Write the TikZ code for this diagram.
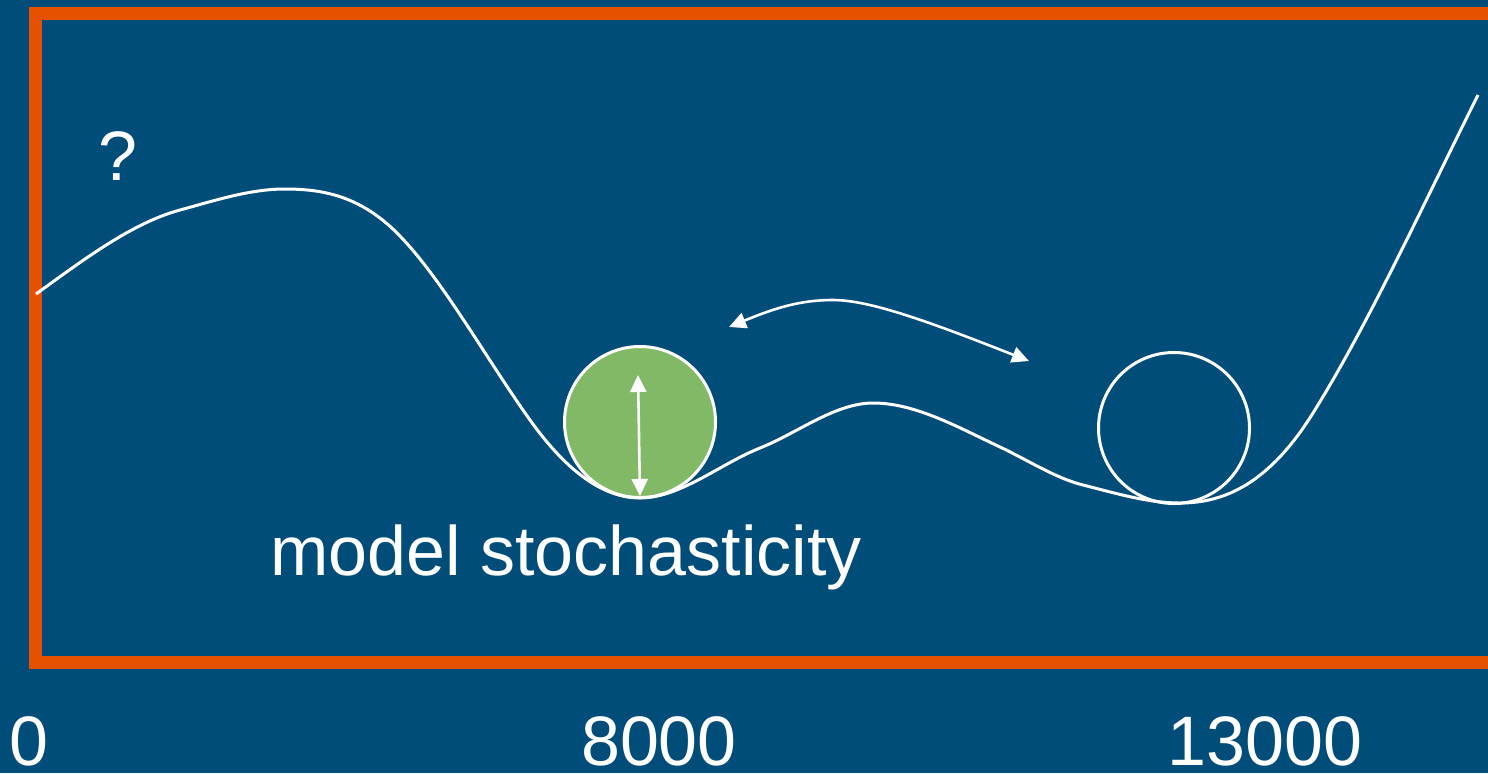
\documentclass[tikz,border=0pt]{standalone}
\usepackage{fontspec}
\setmainfont{Liberation Sans}
\usetikzlibrary{arrows.meta}
\definecolor{slideblue}{RGB}{0,77,122}
\definecolor{frameorange}{RGB}{230,81,0}
\definecolor{ballgreen}{RGB}{130,185,103}

\begin{document}
\begin{tikzpicture}[x=0.5pt,y=-0.5pt]
\tikzstyle{every node}=[font=\fontsize{35}{42}\selectfont,text=white,inner sep=0pt]
\tikzstyle{ball}=[circle,draw=white,line width=1.5pt,minimum size=151pt*0.5]
\tikzstyle{swing}=[white,line width=1.3pt,{Triangle[length=8.5pt,width=8pt]}-{Triangle[length=8.5pt,width=8pt]}]

% Background, fixes the page size too
\fill[slideblue] (0,0) rectangle (1488,773);
\useasboundingbox (0,0) rectangle (1488,773);

% Orange frame, open past the right edge
\draw[frameorange,line width=6.5pt] (1500,13) -- (35,13) -- (35,662.5) -- (1500,662.5);

% The landscape
\draw[white,line width=1.5pt] (36,294)
  .. controls (84,259.4) and (132,223) .. (180,210)
  .. controls (215,200.5) and (250,189) .. (285,189)
  .. controls (322.3,189) and (359.7,195.7) .. (397,233)
  .. controls (441.3,277.3) and (485.7,358) .. (530,420)
  .. controls (566.7,471.4) and (603.3,498) .. (640,498)
  .. controls (680,498) and (720,464) .. (760,448)
  .. controls (797.7,432.9) and (835.3,403) .. (873,403)
  .. controls (915.3,403) and (957.7,427.1) .. (1000,447)
  .. controls (1027.7,460) and (1055.3,478.1) .. (1083,485)
  .. controls (1115.3,493.1) and (1147.7,503) .. (1180,503)
  .. controls (1224.3,503) and (1268.7,483.9) .. (1313,413)
  .. controls (1368,325) and (1423,205) .. (1478,95);

% Two balls
\node[ball,fill=ballgreen] (green) at (640,422) {};
\node[ball] (empty) at (1174,428) {};

% Up and down inside the green ball
\coordinate (up) at (638,375);
\coordinate (down) at (640,496);
\draw[swing] (up) -- (down);

% Hop between the two valleys
\coordinate (hopL) at (729,327);
\coordinate (hopT) at (833,300);
\coordinate (hopR) at (1029,361);
\draw[swing] (hopL) .. controls (775,308) and (800,300) .. (hopT)
  .. controls (870,300) and (930,322) .. (hopR);

% Labels
\node[anchor=base] (ask) at (118,180) {?};
\node[anchor=base] (noise) at (566,575) {model stochasticity};
\node[anchor=base] (t0) at (29,765) {0};
\node[anchor=base] (t8) at (659,765) {8000};
\node[anchor=base] (t13) at (1265,765) {13000};

\end{tikzpicture}
\end{document}
